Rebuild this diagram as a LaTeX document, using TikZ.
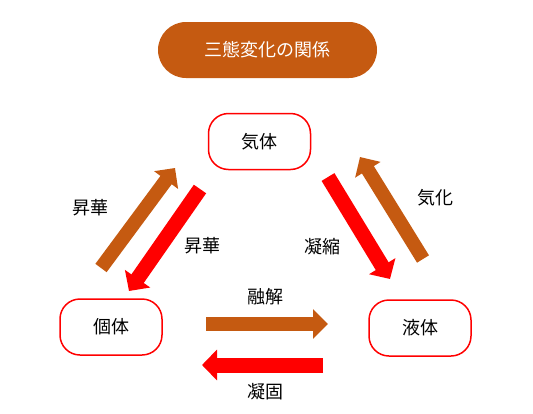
\documentclass[tikz,border=0pt]{standalone}
\usepackage{fontspec}
\newfontfamily\jp{Noto Sans CJK JP}
\usetikzlibrary{arrows.meta}
\definecolor{rust}{RGB}{197,90,17}
\begin{document}
\begin{tikzpicture}[x=1pt,y=-1pt,
  jpfont/.style={font=\jp\fontsize{18}{21}\selectfont},
  box/.style={draw=red, line width=1.5pt, rounded corners=20pt, minimum width=102pt, minimum height=56pt, jpfont},
  title/.style={fill=rust, rounded corners=28pt, minimum width=219pt, minimum height=56pt, text=white, jpfont},
  lbl/.style={jpfont, inner sep=0pt},
  brarrow/.style={draw=rust, line width=14pt, -{Triangle[width=29pt,length=15pt]}},
  rdarrow/.style={draw=red, line width=15pt, -{Triangle[width=30pt,length=15pt]}}]
\useasboundingbox (0,0) rectangle (533,413);
\node[title] (t) at (267.5,50) {三態変化の関係};
\node[box] (gas) at (259.5,141.5) {気体};
\node[box] (sol) at (111,327) {個体};
\node[box] (liq) at (420,328) {液体};
% left diagonal arrows
\coordinate (a1s) at (101,268); \coordinate (a1e) at (175,168);
\coordinate (a2s) at (200,189); \coordinate (a2e) at (129,291);
% right diagonal arrows
\coordinate (a3s) at (328,177); \coordinate (a3e) at (390,279);
\coordinate (a4s) at (423,259); \coordinate (a4e) at (360,157);
% horizontal arrows
\coordinate (a5s) at (206,324); \coordinate (a5e) at (328,324);
\coordinate (a6s) at (323,365); \coordinate (a6e) at (202,365);
\draw[brarrow] (a1s) -- (a1e);
\draw[rdarrow] (a2s) -- (a2e);
\draw[rdarrow] (a3s) -- (a3e);
\draw[brarrow] (a4s) -- (a4e);
\draw[brarrow] (a5s) -- (a5e);
\draw[rdarrow] (a6s) -- (a6e);
\node[lbl] (l1) at (90,208) {昇華};
\node[lbl] (l2) at (202,246) {昇華};
\node[lbl] (l3) at (322,247) {凝縮};
\node[lbl] (l4) at (435,198) {気化};
\node[lbl] (l5) at (265,297) {融解};
\node[lbl] (l6) at (265,392) {凝固};
\end{tikzpicture}
\end{document}
